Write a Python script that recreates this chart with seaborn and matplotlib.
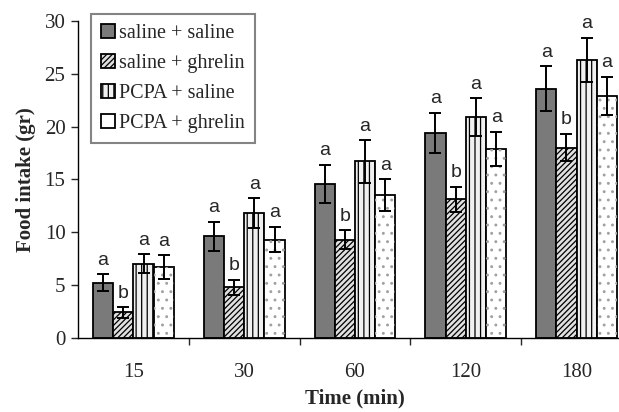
import numpy as np
import pandas as pd
import seaborn as sns
import matplotlib.pyplot as plt
from matplotlib.patches import Rectangle

times = ['15', '30', '60', '120', '180']
groups = ['saline + saline', 'saline + ghrelin', 'PCPA + saline', 'PCPA + ghrelin']

sal_sal = [5.2, 9.6, 14.6, 19.4, 23.6]
sal_ghr = [2.4, 4.8, 9.3, 13.1, 18.0]
pcpa_sal = [7.0, 11.8, 16.7, 20.9, 26.3]
pcpa_ghr = [6.7, 9.3, 13.5, 17.9, 22.9]

sal_sal_err = [0.8, 1.4, 1.8, 1.9, 2.1]
sal_ghr_err = [0.5, 0.7, 0.9, 1.2, 1.3]
pcpa_sal_err = [0.9, 1.4, 2.0, 1.8, 2.1]
pcpa_ghr_err = [1.1, 1.2, 1.5, 1.6, 1.8]

sal_sal_lbl = ['a'] * 5
sal_ghr_lbl = ['b'] * 5
pcpa_sal_lbl = ['a'] * 5
pcpa_ghr_lbl = ['a'] * 5

values = [sal_sal, sal_ghr, pcpa_sal, pcpa_ghr]
errors = [sal_sal_err, sal_ghr_err, pcpa_sal_err, pcpa_ghr_err]
letters = [sal_sal_lbl, sal_ghr_lbl, pcpa_sal_lbl, pcpa_ghr_lbl]

rows = []
for g, vals in zip(groups, values):
    for t, v in zip(times, vals):
        rows.append({'time': t, 'group': g, 'intake': v})
df = pd.DataFrame(rows)

sns.set_style('white')
plt.rcParams['font.family'] = ['Liberation Serif', 'DejaVu Serif']
plt.rcParams['hatch.linewidth'] = 0.9

fig = plt.figure(figsize=(6.19, 4.12), dpi=100)
ax = fig.add_axes([0.126, 0.18, 0.895, 0.769])

colors = ['#7a7a7a', '#e0e0e0', '#f0f0f0', '#ffffff']
sns.barplot(data=df, x='time', y='intake', hue='group', hue_order=groups,
            palette=colors, edgecolor='black', linewidth=1.3, errorbar=None,
            width=0.73, saturation=1, legend=False, ax=ax)

hatches = [None, '//////', '|||', None]
for cont, h, errs, lbls in zip(ax.containers, hatches, errors, letters):
    xs, ys = [], []
    for bar in cont.patches:
        if h:
            bar.set_hatch(h)
        xs.append(bar.get_x() + bar.get_width() / 2)
        ys.append(bar.get_height())
    ax.errorbar(xs, ys, yerr=errs, fmt='none', ecolor='black',
                elinewidth=1.4, capsize=4, capthick=1.4, zorder=5)
    for x, y, e, l in zip(xs, ys, errs, lbls):
        ax.annotate(l, (x, y + e), xytext=(0, 4), textcoords='offset points',
                    ha='center', va='bottom', fontsize=14,
                    family=['Liberation Sans', 'DejaVu Sans'])

# light grey dots for the last group
for bar in ax.containers[3].patches:
    ax.add_patch(Rectangle(bar.get_xy(), bar.get_width(), bar.get_height(),
                           fill=False, hatch='..', edgecolor='#a0a0a0',
                           linewidth=0, zorder=bar.get_zorder() + 0.1))

ax.set_ylim(0, 30)
ax.set_xlim(-0.5, 4.5)
ax.set_yticks(range(0, 31, 5))
ax.set_xticks(np.arange(0.5, 4.5, 1), minor=True)
ax.tick_params(axis='x', which='major', length=0, labelsize=15, pad=18)
ax.tick_params(axis='x', which='minor', length=5, width=1, direction='out', bottom=True)
ax.tick_params(axis='y', length=5, width=1, direction='out', left=True, labelsize=15, pad=4)
for s in ['top', 'right']:
    ax.spines[s].set_visible(False)
for s in ['left', 'bottom']:
    ax.spines[s].set_color('black')
    ax.spines[s].set_linewidth(1)

ax.set_xlabel('Time (min)', fontsize=15, fontweight='bold', labelpad=5)
ax.set_ylabel('Food intake (gr)', fontsize=15, fontweight='bold', labelpad=6)

leg = ax.legend(ax.containers, groups, loc='upper left',
                bbox_to_anchor=(0.005, 1.055), fontsize=14.5, frameon=True,
                fancybox=False, edgecolor='#666666', handlelength=0.7,
                handleheight=0.7, handletextpad=0.2, labelspacing=0.55,
                borderpad=0.5)
leg.get_frame().set_linewidth(1.5)

fig.savefig('out.png', dpi=100)
